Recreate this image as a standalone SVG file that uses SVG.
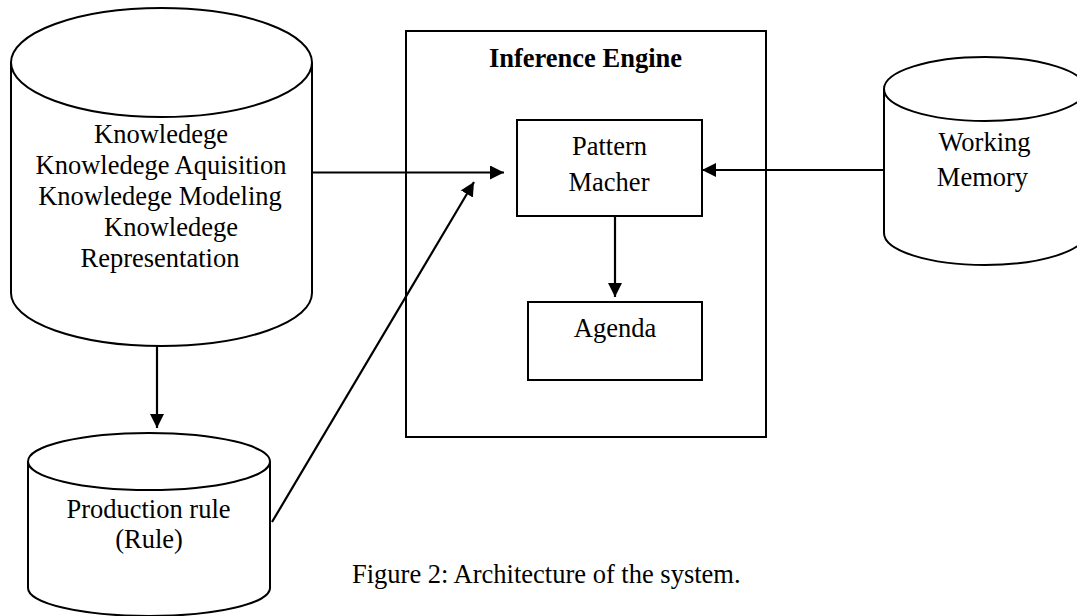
<svg xmlns="http://www.w3.org/2000/svg" width="1077" height="616" viewBox="0 0 1077 616">
<style>
.s{fill:#fff;stroke:#000;stroke-width:2}
.t{font-family:"Liberation Serif","Times New Roman",serif;font-size:26.5px;fill:#000;text-anchor:middle}
.b{font-weight:bold}
.c{fill:none;stroke:#000;stroke-width:2.2}
</style>
<defs>
<marker id="ah" markerUnits="userSpaceOnUse" markerWidth="15" markerHeight="15" refX="14" refY="7" orient="auto" viewBox="0 0 15 15">
<path d="M0,0 L14,7 L0,14 z" fill="#000"/>
</marker>
</defs>
<rect width="1077" height="616" fill="#fff"/>
<g id="inference-engine">
<rect class="s" x="406" y="31" width="360" height="406"/>
<text class="t b" x="585.5" y="67">Inference Engine</text>
</g>
<g id="knowledge">
<path class="s" d="M11,62.5 L11,293 A150.5,53 0 0 0 312,293 L312,62.5"/>
<ellipse class="s" cx="161.5" cy="62.5" rx="150.5" ry="54.5"/>
<text class="t" x="161" y="143">Knowledege</text>
<text class="t" x="161" y="174">Knowledege Aquisition</text>
<text class="t" x="160" y="205">Knowledege Modeling</text>
<text class="t" x="171" y="236">Knowledege</text>
<text class="t" x="160" y="267">Representation</text>
</g>
<g id="production-rule">
<path class="s" d="M28,461.5 L28,588 A121,28 0 0 0 270,588 L270,461.5"/>
<ellipse class="s" cx="149" cy="461.5" rx="121" ry="28.5"/>
<text class="t" x="148.5" y="518">Production rule</text>
<text class="t" x="149" y="548">(Rule)</text>
</g>
<g id="working-memory">
<path class="s" d="M884,89 L884,233 A101,32 0 0 0 1086,233 L1086,89"/>
<ellipse class="s" cx="985" cy="89" rx="101" ry="32"/>
<text class="t" x="984.5" y="151">Working</text>
<text class="t" x="982.5" y="186">Memory</text>
</g>
<g id="pattern-macher">
<rect class="s" x="517" y="120" width="185" height="96"/>
<text class="t" x="609.5" y="155">Pattern</text>
<text class="t" x="609" y="191">Macher</text>
</g>
<g id="agenda">
<rect class="s" x="528" y="302" width="174" height="78"/>
<text class="t" x="615" y="337">Agenda</text>
</g>
<g id="connectors">
<line class="c" x1="312" y1="172.5" x2="504" y2="172.5" marker-end="url(#ah)"/>
<line class="c" x1="272" y1="522" x2="474" y2="182" marker-end="url(#ah)"/>
<line class="c" x1="884" y1="170" x2="702" y2="170" marker-end="url(#ah)"/>
<line class="c" x1="615" y1="216" x2="615" y2="297" marker-end="url(#ah)"/>
<line class="c" x1="157" y1="346" x2="157" y2="428" marker-end="url(#ah)"/>
</g>
<text class="t" x="352" y="583" style="text-anchor:start">Figure 2: Architecture of the system.</text>
</svg>
